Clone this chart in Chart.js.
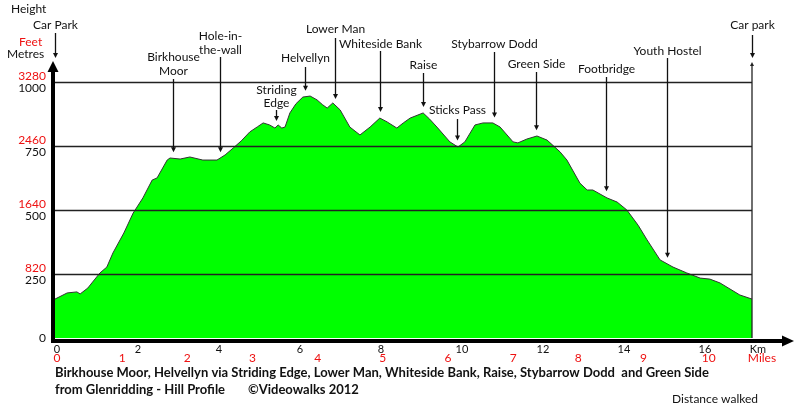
<!DOCTYPE html>
<html>
<head>
<meta charset="utf-8">
<script src="https://cdn.jsdelivr.net/npm/chart.js@4/dist/chart.umd.min.js"></script>
<style>
html,body{margin:0;padding:0;background:#fff;}
#wrap{position:relative;width:800px;height:413px;}
</style>
</head>
<body>
<div id="wrap"><canvas id="c" width="800" height="413"></canvas></div>
<script>
// ---- data ----
const distanceKm = [0,0.30,0.54,0.62,0.81,0.91,1.11,1.28,1.43,1.70,1.93,2.17,2.40,2.52,2.77,2.84,3.09,3.33,3.65,4.00,4.20,4.40,4.60,4.81,5.00,5.14,5.30,5.43,5.51,5.60,5.68,5.80,5.95,6.12,6.30,6.47,6.60,6.72,6.86,7.04,7.28,7.53,7.78,8.02,8.20,8.44,8.60,8.77,9.09,9.25,9.43,9.75,9.95,10.12,10.37,10.57,10.81,10.99,11.31,11.43,11.65,11.90,12.15,12.47,12.64,12.96,13.14,13.28,13.63,13.88,14.12,14.40,14.62,14.94,15.26,15.60,15.93,16.17,16.42,16.91,17.21];
const elevationM = [152,176,180,172,195,215,254,277,332,410,488,547,617,625,695,703,699,707,695,695,715,742,770,805,825,840,832,820,832,820,824,879,915,941,945,930,912,898,918,891,824,793,824,859,844,820,840,859,879,855,824,766,746,766,832,840,840,824,766,762,777,789,773,727,695,605,578,578,547,531,500,440,383,305,277,254,234,230,215,168,152];
const kmTicks = [0,2,4,6,8,10,12,14,16];
const mileTicks = [0,1,2,3,4,5,6,7,8,9,10];
const metreTicks = [0,250,500,750,1000];
const feetLabels = ['', '820', '1640', '2460', '3280'];
const gridMetres = [250,500,750,1000];
const waypointNames = ['Car Park','Birkhouse Moor','Hole-in-the-wall','Striding Edge','Helvellyn','Lower Man','Whiteside Bank','Raise','Sticks Pass','Stybarrow Dodd','Green Side','Footbridge','Youth Hostel','Car park'];
const waypointKm = [0,2.91,4.07,5.46,6.17,6.91,8.02,9.09,9.93,10.84,11.88,13.6,15.11,17.21];
const KM_PER_MILE = 1.609;

// ---- layout of annotation labels (text lines, text centre y, arrow start y) ----
const labelLayout = [
  {lines:['Car Park'], ty:[25], top:33},
  {lines:['Birkhouse','Moor'], ty:[57,71], top:79},
  {lines:['Hole-in-','the-wall'], ty:[36,50], top:57},
  {lines:['Striding','Edge'], ty:[90,103], top:110},
  {lines:['Helvellyn'], ty:[58], top:67},
  {lines:['Lower Man'], ty:[29], top:38},
  {lines:['Whiteside Bank'], ty:[44], top:51},
  {lines:['Raise'], ty:[65], top:73},
  {lines:['Sticks Pass'], ty:[110], top:119},
  {lines:['Stybarrow Dodd'], ty:[44], top:52},
  {lines:['Green Side'], ty:[64], top:72},
  {lines:['Footbridge'], ty:[69], top:77},
  {lines:['Youth Hostel'], ty:[51], top:58},
  {lines:['Car park'], ty:[25], top:35}
];

const FONT = 'Lato, "Open Sans", sans-serif';

function elevAt(km){
  for(let i=1;i<distanceKm.length;i++){
    if(km<=distanceKm[i]){
      const t=(km-distanceKm[i-1])/(distanceKm[i]-distanceKm[i-1]);
      return elevationM[i-1]+t*(elevationM[i]-elevationM[i-1]);
    }
  }
  return elevationM[elevationM.length-1];
}

function arrowHead(ctx,x,y,dir,w,h){
  ctx.beginPath();
  if(dir==='down'){ctx.moveTo(x,y);ctx.lineTo(x-w/2,y-h);ctx.lineTo(x+w/2,y-h);}
  else if(dir==='up'){ctx.moveTo(x,y);ctx.lineTo(x-w/2,y+h);ctx.lineTo(x+w/2,y+h);}
  else {ctx.moveTo(x,y);ctx.lineTo(x-h,y-w/2);ctx.lineTo(x-h,y+w/2);}
  ctx.closePath();ctx.fill();
}

const decor = {
  id:'decor',
  beforeDraw(chart){
    const ctx=chart.ctx;
    ctx.save();ctx.fillStyle='#fff';ctx.fillRect(0,0,chart.width,chart.height);ctx.restore();
  },
  afterDatasetsDraw(chart){
    const ctx=chart.ctx, xs=chart.scales.x, ys=chart.scales.y, a=chart.chartArea;
    ctx.save();
    const xL=xs.getPixelForValue(0), xR=xs.getPixelForValue(distanceKm[distanceKm.length-1]);
    const yB=ys.getPixelForValue(0);
    // grid lines
    ctx.strokeStyle='#222';ctx.lineWidth=1.3;
    gridMetres.forEach(m=>{const y=Math.round(ys.getPixelForValue(m))+0.5;ctx.beginPath();ctx.moveTo(xL,y);ctx.lineTo(xR,y);ctx.stroke();});
    // right vertical line
    ctx.beginPath();ctx.moveTo(xR,yB);ctx.lineTo(xR,a.top+3);ctx.stroke();
    ctx.fillStyle='#222';arrowHead(ctx,xR,a.top,'up',4,4);
    // y axis thick
    ctx.fillStyle='#000';ctx.strokeStyle='#000';ctx.lineWidth=4;
    ctx.beginPath();ctx.moveTo(xL-2,yB+5);ctx.lineTo(xL-2,a.top+8);ctx.stroke();
    arrowHead(ctx,xL-2,a.top-1,'up',11,11);
    // x axis thick
    ctx.beginPath();ctx.moveTo(xL-4,yB+3);ctx.lineTo(783,yB+3);ctx.stroke();
    arrowHead(ctx,794,yB+3,'right',11,12);
    // y labels
    ctx.font='12px '+FONT;ctx.textAlign='right';ctx.textBaseline='middle';
    metreTicks.forEach((m,i)=>{
      const y=ys.getPixelForValue(m);
      if(m===0){ctx.fillStyle='#111';ctx.fillText('0',46,y);return;}
      ctx.fillStyle='#ee1111';ctx.fillText(feetLabels[i],46,y-6);
      ctx.fillStyle='#111';ctx.fillText(String(m),46,y+6);
    });
    ctx.textAlign='left';
    ctx.fillStyle='#111';ctx.fillText('Height',11,9);
    ctx.fillStyle='#ee1111';ctx.fillText('Feet',19,42);
    ctx.fillStyle='#111';ctx.fillText('Metres',7,54);
    // x labels
    ctx.textAlign='center';ctx.font='11px '+FONT;ctx.fillStyle='#111';
    kmTicks.forEach(k=>{ctx.fillText(String(k),xs.getPixelForValue(k)+2,349);});
    ctx.fillText('Km',758,349);
    ctx.font='12px '+FONT;ctx.fillStyle='#ee1111';
    mileTicks.forEach(mi=>{ctx.fillText(String(mi),xs.getPixelForValue(mi*KM_PER_MILE)+2,358);});
    ctx.fillText('Miles',762,358);
    // annotations
    ctx.fillStyle='#111';ctx.strokeStyle='#111';ctx.lineWidth=1.3;ctx.font='12px '+FONT;
    waypointNames.forEach((n,i)=>{
      const L=labelLayout[i];
      const x=Math.round(xs.getPixelForValue(waypointKm[i]))+0.5;
      L.lines.forEach((t,j)=>ctx.fillText(t,x,L.ty[j]));
      let tip;
      if(i===0||i===waypointNames.length-1) tip=a.top-4;
      else tip=ys.getPixelForValue(elevAt(waypointKm[i]))-6;
      ctx.beginPath();ctx.moveTo(x,L.top);ctx.lineTo(x,tip-3);ctx.stroke();
      arrowHead(ctx,x,tip,'down',5,5);
    });
    // titles
    ctx.textAlign='left';ctx.fillStyle='#111';
    ctx.font='bold 13px '+FONT;
    ctx.fillText('Birkhouse Moor, Helvellyn via Striding Edge, Lower Man, Whiteside Bank, Raise, Stybarrow Dodd  and Green Side',55,373);
    ctx.fillText('from Glenridding - Hill Profile',55,390);
    ctx.fillText('\u00A9Videowalks 2012',248,390);
    ctx.font='12px '+FONT;
    ctx.fillText('Distance walked',672,399);
    ctx.restore();
  }
};

new Chart(document.getElementById('c'),{
  type:'line',
  data:{datasets:[{
    data:distanceKm.map((d,i)=>({x:d,y:elevationM[i]})),
    borderColor:'#333',borderWidth:1,backgroundColor:'#00ff00',fill:'origin',
    pointRadius:0,tension:0
  }]},
  options:{
    responsive:false,animation:false,
    layout:{padding:{left:55,right:48,top:62,bottom:75}},
    plugins:{legend:{display:false},tooltip:{enabled:false}},
    scales:{
      x:{type:'linear',min:0,max:17.21,display:false},
      y:{type:'linear',min:0,max:1078,display:false}
    }
  },
  plugins:[decor]
});
</script>
</body>
</html>
